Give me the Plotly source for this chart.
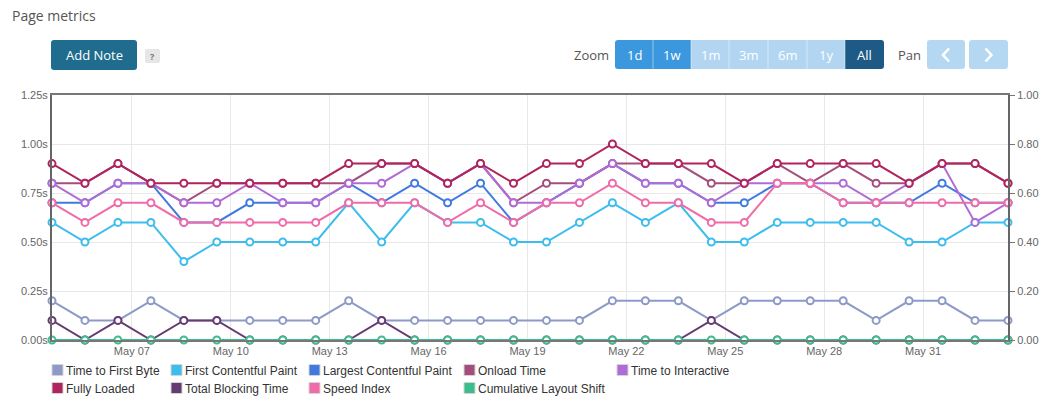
import pandas as pd
import plotly.graph_objects as go

# ---------------- data ----------------
dates = pd.date_range("2023-05-04 13:50", periods=30, freq="D")

ttfb = [0.2, 0.1, 0.1, 0.2, 0.1, 0.1, 0.1, 0.1, 0.1, 0.2,
        0.1, 0.1, 0.1, 0.1, 0.1, 0.1, 0.1, 0.2, 0.2, 0.2,
        0.1, 0.2, 0.2, 0.2, 0.2, 0.1, 0.2, 0.2, 0.1, 0.1]
fcp = [0.6, 0.5, 0.6, 0.6, 0.4, 0.5, 0.5, 0.5, 0.5, 0.7,
       0.5, 0.7, 0.6, 0.6, 0.5, 0.5, 0.6, 0.7, 0.6, 0.7,
       0.5, 0.5, 0.6, 0.6, 0.6, 0.6, 0.5, 0.5, 0.6, 0.6]
lcp = [0.7, 0.7, 0.8, 0.8, 0.6, 0.6, 0.7, 0.7, 0.7, 0.8,
       0.7, 0.8, 0.7, 0.8, 0.6, 0.7, 0.8, 0.9, 0.8, 0.8,
       0.7, 0.7, 0.8, 0.8, 0.7, 0.7, 0.7, 0.8, 0.7, 0.7]
onload = [0.8, 0.8, 0.9, 0.8, 0.7, 0.8, 0.8, 0.8, 0.8, 0.8,
          0.9, 0.9, 0.8, 0.9, 0.7, 0.8, 0.8, 0.9, 0.9, 0.9,
          0.8, 0.8, 0.9, 0.8, 0.9, 0.8, 0.8, 0.9, 0.9, 0.8]
tti = [0.8, 0.7, 0.8, 0.8, 0.7, 0.7, 0.8, 0.7, 0.7, 0.8,
       0.8, 0.9, 0.8, 0.9, 0.7, 0.7, 0.8, 0.9, 0.8, 0.8,
       0.7, 0.8, 0.8, 0.8, 0.8, 0.7, 0.8, 0.9, 0.6, 0.7]
fully_loaded = [0.9, 0.8, 0.9, 0.8, 0.8, 0.8, 0.8, 0.8, 0.8, 0.9,
                0.9, 0.9, 0.8, 0.9, 0.8, 0.9, 0.9, 1.0, 0.9, 0.9,
                0.9, 0.8, 0.9, 0.9, 0.9, 0.9, 0.8, 0.9, 0.9, 0.8]
tbt = [0.1, 0.0, 0.1, 0.0, 0.1, 0.1, 0.0, 0.0, 0.0, 0.0,
       0.1, 0.0, 0.0, 0.0, 0.0, 0.0, 0.0, 0.0, 0.0, 0.0,
       0.1, 0.0, 0.0, 0.0, 0.0, 0.0, 0.0, 0.0, 0.0, 0.0]
speed_index = [0.7, 0.6, 0.7, 0.7, 0.6, 0.6, 0.6, 0.6, 0.6, 0.7,
               0.7, 0.7, 0.6, 0.7, 0.6, 0.7, 0.7, 0.8, 0.7, 0.7,
               0.6, 0.6, 0.8, 0.8, 0.7, 0.7, 0.7, 0.7, 0.7, 0.7]
cls = [0.0] * 30

series_names = ["Time to First Byte", "First Contentful Paint", "Largest Contentful Paint",
                "Onload Time", "Time to Interactive", "Fully Loaded",
                "Total Blocking Time", "Speed Index", "Cumulative Layout Shift"]
series_values = [ttfb, fcp, lcp, onload, tti, fully_loaded, tbt, speed_index, cls]
series_colors = ["#8d9ac7", "#3dbdee", "#4079e0", "#a44e7e", "#b06bd6", "#b0245d",
                 "#663a73", "#f06ba7", "#3bbd8e"]
series_axis = ["y", "y", "y", "y", "y", "y", "y", "y", "y2"]

# ---------------- geometry helpers ----------------
W, H = 1046, 406
ML, MR, MT, MB = 52, 38, 95, 66
PW, PH = W - ML - MR, H - MT - MB


def px(x):
    return (x - ML) / PW


def py(y):
    return (H - MB - y) / PH


def P(x, y):
    return f"{px(x):.5f},{py(y):.5f}"


def rrect(x0, y0, x1, y1, r=(3, 3, 3, 3)):
    tl, tr, br, bl = r
    return (f"M {P(x0 + tl, y0)} L {P(x1 - tr, y0)} Q {P(x1, y0)} {P(x1, y0 + tr)} "
            f"L {P(x1, y1 - br)} Q {P(x1, y1)} {P(x1 - br, y1)} "
            f"L {P(x0 + bl, y1)} Q {P(x0, y1)} {P(x0, y1 - bl)} "
            f"L {P(x0, y0 + tl)} Q {P(x0, y0)} {P(x0 + tl, y0)} Z")


def label(text, x, y, size=13, color="#555555", xanchor="center", family="Open Sans, sans-serif"):
    return dict(text=text, x=px(x), y=py(y), xref="paper", yref="paper",
                xanchor=xanchor, yanchor="middle", showarrow=False,
                font=dict(family=family, size=size, color=color))


fig = go.Figure()

for name, vals, col, ax in zip(series_names, series_values, series_colors, series_axis):
    fig.add_trace(go.Scatter(
        x=dates, y=vals, name=name, legendgroup=name, showlegend=False,
        mode="lines+markers", yaxis=ax, cliponaxis=False,
        line=dict(color=col, width=2),
        marker=dict(size=7, color="white", line=dict(color=col, width=2)),
    ))

# legend layout: columns (text start px) and rows (text centre px)
legend_cols = [66, 185, 323, 478, 631, 66, 185, 323, 478]
legend_rows = [370, 370, 370, 370, 370, 388, 388, 388, 388]

TICKFONT = dict(family="Liberation Sans, Arial, sans-serif", size=11, color="#666666")
LEGFONT = dict(family="Liberation Sans, Arial, sans-serif", size=12, color="#333333")

legends = {}
shapes = []
for k, (name, col) in enumerate(zip(series_names, series_colors)):
    lid = "legend" if k == 0 else f"legend{k + 1}"
    fig.add_trace(go.Scatter(
        x=[None], y=[None], name=name, legendgroup=name, legend=lid,
        mode="markers", showlegend=True,
        marker=dict(symbol="square", size=11, color="rgba(0,0,0,0)", line=dict(width=0)),
    ))
    tx, ty = legend_cols[k], legend_rows[k]
    legends[lid] = dict(x=px(tx - 40), y=py(ty), xanchor="left", yanchor="middle",
                        orientation="v", bgcolor="rgba(0,0,0,0)", font=LEGFONT,
                        tracegroupgap=0, borderwidth=0)
    # legend colour swatch
    shapes.append(dict(type="rect", x0=px(tx - 14), x1=px(tx - 3), y0=py(ty - 5.5), y1=py(ty + 5.5),
                       xref="paper", yref="paper", fillcolor=col,
                       line=dict(color="#d4d4d4", width=1), layer="above"))

annotations = []

# title
annotations.append(label("Page metrics", 10, 16, size=14, xanchor="left"))

# Add Note button
shapes.append(dict(type="path", path=rrect(51, 40, 137, 70), xref="paper", yref="paper",
                   fillcolor="#1f6c8e", line=dict(width=0)))
annotations.append(label("Add Note", 94, 55, color="white"))
shapes.append(dict(type="path", path=rrect(145, 49, 160, 63, (2, 2, 2, 2)), xref="paper", yref="paper",
                   fillcolor="#e6e6e6", line=dict(width=0)))
annotations.append(label("<b>?</b>", 152.5, 56, size=9, color="#777777"))

# Zoom buttons
annotations.append(label("Zoom", 611, 55, xanchor="right"))
zoom_labels = ["1d", "1w", "1m", "3m", "6m", "1y", "All"]
zoom_edges = [615, 653, 691, 729, 768, 807, 845, 884]
zoom_fill = ["#3c98de", "#3c98de", "#b2d6f1", "#b2d6f1", "#b2d6f1", "#b2d6f1", "#1d5a86"]
for i, lab in enumerate(zoom_labels):
    x0, x1 = zoom_edges[i], zoom_edges[i + 1]
    r = (3, 0, 0, 3) if i == 0 else ((0, 3, 3, 0) if i == len(zoom_labels) - 1 else (0, 0, 0, 0))
    shapes.append(dict(type="path", path=rrect(x0, 40, x1, 69, r), xref="paper", yref="paper",
                       fillcolor=zoom_fill[i], line=dict(width=0)))
    annotations.append(label(lab, (x0 + x1) / 2, 54.5, color="white"))
for xe in zoom_edges[1:-1]:
    shapes.append(dict(type="line", x0=px(xe), x1=px(xe), y0=py(40), y1=py(69), xref="paper", yref="paper",
                       line=dict(color="rgba(255,255,255,0.45)", width=1)))

# Pan buttons
annotations.append(label("Pan", 923, 55, xanchor="right"))
for (x0, x1), d in zip([(927, 965), (969, 1008)], [-1, 1]):
    shapes.append(dict(type="path", path=rrect(x0, 40, x1, 69), xref="paper", yref="paper",
                       fillcolor="#b4d8f2", line=dict(width=0)))
    cx = (x0 + x1) / 2
    chev = f"M {P(cx - 3 * d, 48.5)} L {P(cx + 3 * d, 55)} L {P(cx - 3 * d, 61.5)}"
    shapes.append(dict(type="path", path=chev, xref="paper", yref="paper",
                       line=dict(color="white", width=2.5)))

fig.update_layout(
    width=W, height=H,
    margin=dict(l=ML, r=MR, t=MT, b=MB, autoexpand=False),
    paper_bgcolor="white", plot_bgcolor="white",
    showlegend=True,
    shapes=shapes, annotations=annotations,
    xaxis=dict(type="date", range=[dates[0], dates[-1]],
               tick0="2023-05-07", dtick=3 * 86400000, tickformat="%b %d",
               showgrid=True, gridcolor="#e8e8e8", gridwidth=1,
               showline=True, linecolor="#777777", linewidth=2, mirror=True,
               ticks="", tickfont=TICKFONT, zeroline=False),
    yaxis=dict(range=[0, 1.25], dtick=0.25, tickformat=".2f", ticksuffix="s",
               showgrid=True, gridcolor="#e8e8e8", gridwidth=1,
               showline=True, linecolor="#666666", linewidth=2,
               ticks="", tickfont=TICKFONT, zeroline=False),
    yaxis2=dict(overlaying="y", side="right", range=[0, 1.0], dtick=0.2, tickformat=".2f",
                showgrid=False, showline=True, linecolor="#666666", linewidth=2,
                ticks="outside", ticklen=5, tickcolor="#777777",
                tickfont=TICKFONT, zeroline=False),
    **legends,
)

fig.write_html("out.html")
